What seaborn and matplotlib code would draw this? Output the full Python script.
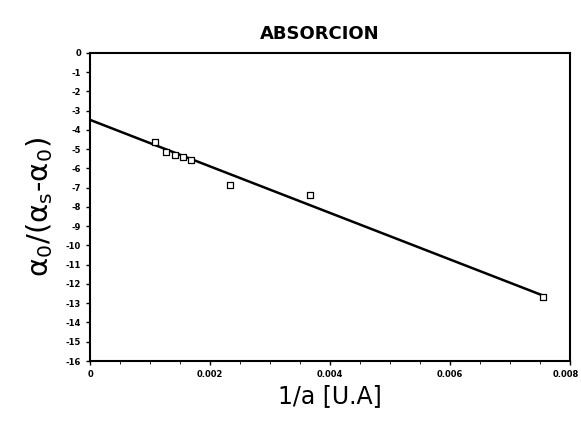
import matplotlib
matplotlib.use("Agg")
import matplotlib.pyplot as plt
import matplotlib.transforms as mtransforms
import seaborn as sns
import pandas as pd
from matplotlib.ticker import MultipleLocator, FuncFormatter

# values
inv_a = [0.00108, 0.00127, 0.00142, 0.00155, 0.00168, 0.00233, 0.00367, 0.00755]
ratio = [-4.62, -5.15, -5.30, -5.40, -5.56, -6.86, -7.38, -12.70]

fit_x = [0.0, 0.00755]
fit_y = [-3.48, -12.60]

x_ticks = [0, 0.002, 0.004, 0.006, 0.008]
x_labels = ["0", "0.002", "0.004", "0.006", "0.008"]
y_ticks = list(range(0, -17, -1))

pts = pd.DataFrame({"x": inv_a, "y": ratio})
fit = pd.DataFrame({"x": fit_x, "y": fit_y})

sns.set_style("ticks")
plt.rcParams["font.family"] = ["DejaVu Sans"]
plt.rcParams["mathtext.fontset"] = "dejavusans"
plt.rcParams["mathtext.default"] = "regular"
plt.rcParams["text.color"] = "black"
plt.rcParams["axes.labelcolor"] = "black"
plt.rcParams["xtick.color"] = "black"
plt.rcParams["ytick.color"] = "black"
plt.rcParams["axes.edgecolor"] = "black"

fig = plt.figure(figsize=(5.81, 4.21), dpi=100)
ax = fig.add_axes([0.155, 0.1425, 0.826, 0.732])

sns.lineplot(data=fit, x="x", y="y", color="black", linewidth=1.8, ax=ax)
sns.scatterplot(data=pts, x="x", y="y", marker="s", s=18, facecolor="white",
                edgecolor="black", linewidth=0.9, zorder=3, ax=ax)

ax.set_xlim(0, 0.008)
ax.set_ylim(-16, 0)
ax.set_xticks(x_ticks)
ax.set_xticklabels(x_labels)
ax.xaxis.set_minor_locator(MultipleLocator(0.0005))
ax.set_yticks(y_ticks)
ax.yaxis.set_major_formatter(FuncFormatter(lambda v, p: f"{int(v)}"))
ax.tick_params(axis="both", labelsize=6, width=1, length=3, direction="out")
ax.tick_params(axis="x", which="minor", length=2)
for lab in ax.get_xticklabels() + ax.get_yticklabels():
    lab.set_fontweight("bold")
# keep the last x label inside the figure
last = ax.get_xticklabels()[-1]
last.set_transform(last.get_transform() +
                   mtransforms.ScaledTranslation(-4 / 100, 0, fig.dpi_scale_trans))
for sp in ax.spines.values():
    sp.set_linewidth(1.5)
    sp.set_visible(True)

ax.set_xlabel("1/a [U.A]", fontsize=17, labelpad=4)
ax.set_ylabel(r"$\alpha_0/(\alpha_s$-$\alpha_0)$", fontsize=21, labelpad=8)
fig.text(0.55, 0.92, "ABSORCION", ha="center", va="center",
         fontsize=13, fontweight="bold")

fig.savefig("out.png", dpi=100)
